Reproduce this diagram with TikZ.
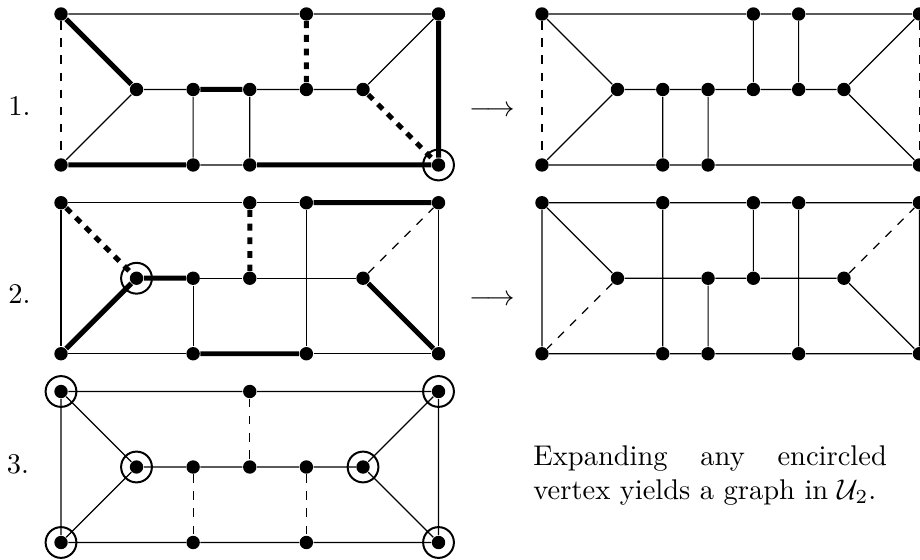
\documentclass[tikz,border=0pt]{standalone}
\usepackage{amsmath, amssymb}
\usepackage{tikz}
\tikzstyle{vertex}=[fill=black,circle,minimum size=4.7pt,inner sep=0pt]
\tikzstyle{ring}=[draw,circle,line width=0.7pt,minimum size=10.8pt,inner sep=0pt]
\tikzstyle{heavy}=[line width=1.75pt]
\tikzstyle{heavydash}=[line width=1.75pt,dash pattern=on 2.4pt off 2.4pt]

\begin{document}
\begin{tikzpicture}[x=0.931cm,y=0.931cm,thin]
\useasboundingbox (-0.808,0.185) rectangle (11.377,-7.219);

% 1.
\begin{scope}
\foreach \n/\x/\y in {tl/0/0,t4/3.25/0,tr/5/0,m1/1/-1,m2/1.75/-1,m3/2.5/-1,m4/3.25/-1,m5/4/-1,bl/0/-2,b2/1.75/-2,b3/2.5/-2,br/5/-2}
  \node[vertex] (A\n) at (\x,\y) {};
\draw (Atl) -- (At4) -- (Atr) (Am5) -- (Atr) (Am1) -- (Abl) (Am1) -- (Am2)
  (Am3) -- (Am4) -- (Am5) (Ab2) -- (Ab3) (Am2) -- (Ab2) (Am3) -- (Ab3);
\draw[dashed] (Atl) -- (Abl);
\draw[heavy] (Atl) -- (Am1) (Am2) -- (Am3) (Atr) -- (Abr) (Abl) -- (Ab2) (Ab3) -- (Abr);
\draw[heavydash] (At4) -- (Am4) (Am5) -- (Abr);
\node[ring] at (Abr) {};
\end{scope}

\begin{scope}[shift={(6.37,0)}]
\foreach \n/\x/\y in {tl/0/0,t4/2.8/0,t5/3.4/0,tr/5/0,m1/1/-1,m2/1.6/-1,m3/2.2/-1,m4/2.8/-1,m5/3.4/-1,m6/4/-1,bl/0/-2,b2/1.6/-2,b3/2.2/-2,br/5/-2}
  \node[vertex] (B\n) at (\x,\y) {};
\draw (Btl) -- (Bt4) -- (Bt5) -- (Btr) (Btl) -- (Bm1) -- (Bbl)
  (Bm1) -- (Bm2) -- (Bm3) -- (Bm4) -- (Bm5) -- (Bm6) (Bt4) -- (Bm4) (Bt5) -- (Bm5)
  (Btr) -- (Bm6) -- (Bbr) (Bbl) -- (Bb2) -- (Bb3) -- (Bbr) (Bm2) -- (Bb2) (Bm3) -- (Bb3);
\draw[dashed] (Btl) -- (Bbl) (Btr) -- (Bbr);
\end{scope}

% 2.
\begin{scope}[shift={(0,-2.5)}]
\foreach \n/\x/\y in {tl/0/0,t3/2.5/0,t4/3.25/0,tr/5/0,m1/1/-1,m2/1.75/-1,m3/2.5/-1,m5/4/-1,bl/0/-2,b2/1.75/-2,b4/3.25/-2,br/5/-2}
  \node[vertex] (C\n) at (\x,\y) {};
\draw (Ctl) -- (Ct3) -- (Ct4) (Ctl) -- (Cbl) (Cm2) -- (Cm3) -- (Cm5) (Ctr) -- (Cbr)
  (Cbl) -- (Cb2) (Cb4) -- (Cbr) (Cm2) -- (Cb2) (Ct4) -- (Cb4);
\draw[dashed] (Cm5) -- (Ctr);
\draw[heavy] (Ct4) -- (Ctr) (Cm1) -- (Cbl) (Cm1) -- (Cm2) (Cm5) -- (Cbr) (Cb2) -- (Cb4);
\draw[heavydash] (Ctl) -- (Cm1) (Ct3) -- (Cm3);
\node[ring] at (Cm1) {};
\end{scope}

\begin{scope}[shift={(6.37,-2.5)}]
\foreach \n/\x/\y in {tl/0/0,t2/1.6/0,t4/2.8/0,t5/3.4/0,tr/5/0,m1/1/-1,m3/2.2/-1,m4/2.8/-1,m6/4/-1,bl/0/-2,b2/1.6/-2,b3/2.2/-2,b5/3.4/-2,br/5/-2}
  \node[vertex] (D\n) at (\x,\y) {};
\draw (Dtl) -- (Dt2) -- (Dt4) -- (Dt5) -- (Dtr) -- (Dbr) (Dtl) -- (Dbl)
  (Dtl) -- (Dm1) -- (Dm3) -- (Dm4) -- (Dm6) -- (Dbr) (Dt2) -- (Db2) (Dt4) -- (Dm4)
  (Dm3) -- (Db3) (Dt5) -- (Db5) (Dbl) -- (Db2) -- (Db3) -- (Db5) -- (Dbr);
\draw[dashed] (Dm1) -- (Dbl) (Dm6) -- (Dtr);
\end{scope}

% 3.
\begin{scope}[shift={(0,-5)}]
\foreach \n/\x/\y in {tl/0/0,t3/2.5/0,tr/5/0,m1/1/-1,m2/1.75/-1,m3/2.5/-1,m4/3.25/-1,m5/4/-1,bl/0/-2,b2/1.75/-2,b4/3.25/-2,br/5/-2}
  \node[vertex] (E\n) at (\x,\y) {};
\draw (Etl) -- (Et3) -- (Etr) -- (Ebr) -- (Eb4) -- (Eb2) -- (Ebl) -- (Etl)
  (Etl) -- (Em1) -- (Ebl) (Etr) -- (Em5) -- (Ebr) (Em1) -- (Em2) -- (Em3) -- (Em4) -- (Em5);
\draw[dashed] (Et3) -- (Em3) (Em2) -- (Eb2) (Em4) -- (Eb4);
\foreach \n in {tl,tr,bl,br,m1,m5}
  \node[ring] at (E\n) {};
\end{scope}

\node[anchor=base] (n1) at (-0.55,-1.34) {1.};
\node[anchor=base] (n2) at (-0.55,-3.84) {2.};
\node[anchor=base] (n3) at (-0.57,-6.08) {3.};
\node[anchor=base] (r1) at (5.71,-1.36) {$\longrightarrow$};
\node[anchor=base] (r2) at (5.71,-3.86) {$\longrightarrow$};
\node[anchor=base west,text width=124pt,align=justify,inner sep=0pt] (txt) at (6.25,-5.974)
  {Expanding any encircled\linebreak vertex yields a graph in $\mathcal{U}_2$.};
\end{tikzpicture}
\end{document}
